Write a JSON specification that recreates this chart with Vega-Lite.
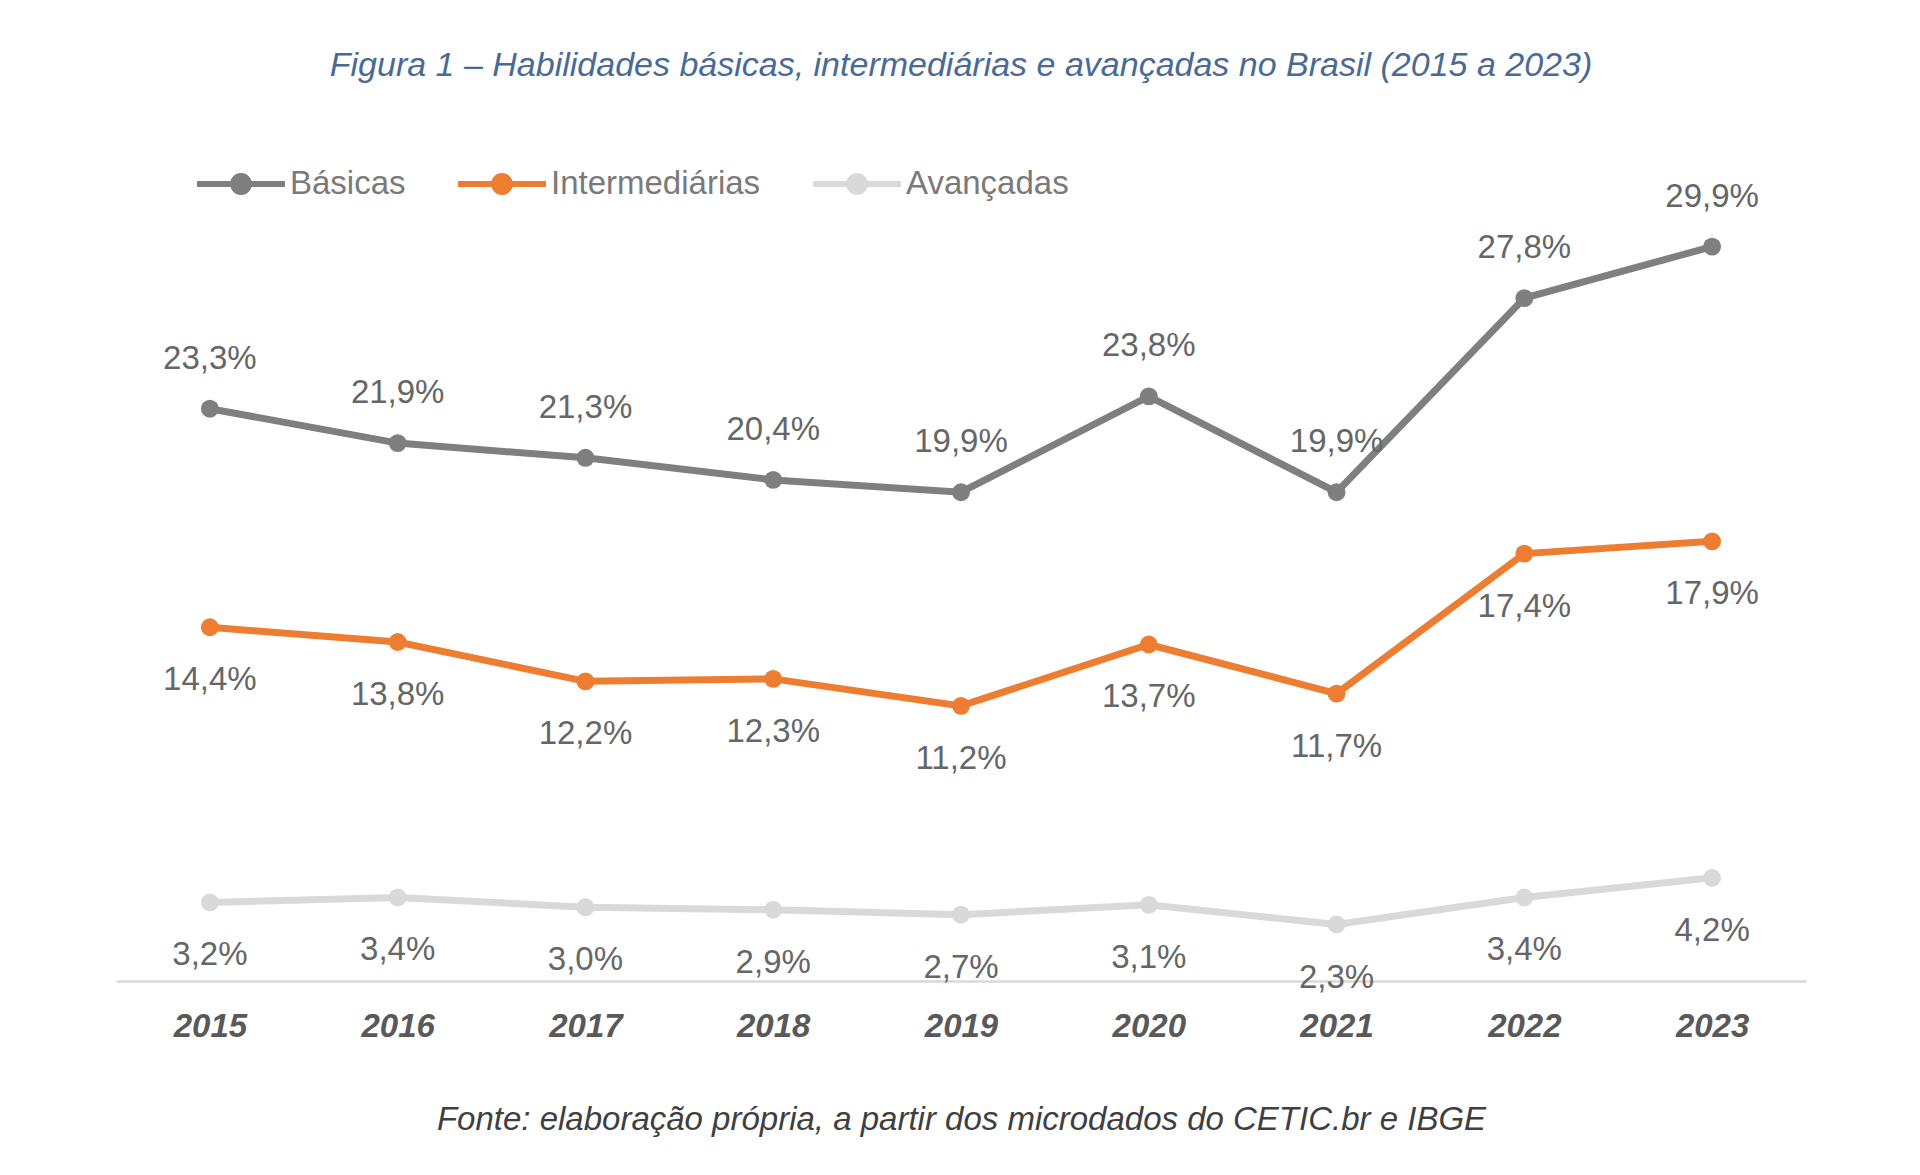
{
  "$schema": "https://vega.github.io/schema/vega-lite/v6.json",
  "autosize": "none",
  "width": 1690,
  "height": 786,
  "padding": {"left": 116, "right": 114, "top": 195, "bottom": 194},
  "background": "white",
  "config": {
    "view": {"stroke": null},
    "locale": {"number": {"decimal": ",", "thousands": ".", "grouping": [3], "currency": ["R$", ""]}},
    "font": "Liberation Sans"
  },
  "title": {
    "text": "Figura 1 – Habilidades básicas, intermediárias e avançadas no Brasil (2015 a 2023)",
    "fontSize": 34,
    "fontStyle": "italic",
    "fontWeight": "normal",
    "color": "#4a6a96",
    "anchor": "middle",
    "frame": "group",
    "offset": 54
  },
  "data": {
    "values": [
      {"ano": "2015", "serie": "Básicas", "valor": 0.233},
      {"ano": "2016", "serie": "Básicas", "valor": 0.219},
      {"ano": "2017", "serie": "Básicas", "valor": 0.213},
      {"ano": "2018", "serie": "Básicas", "valor": 0.204},
      {"ano": "2019", "serie": "Básicas", "valor": 0.199},
      {"ano": "2020", "serie": "Básicas", "valor": 0.238},
      {"ano": "2021", "serie": "Básicas", "valor": 0.199},
      {"ano": "2022", "serie": "Básicas", "valor": 0.278},
      {"ano": "2023", "serie": "Básicas", "valor": 0.299},
      {"ano": "2015", "serie": "Intermediárias", "valor": 0.144},
      {"ano": "2016", "serie": "Intermediárias", "valor": 0.138},
      {"ano": "2017", "serie": "Intermediárias", "valor": 0.122},
      {"ano": "2018", "serie": "Intermediárias", "valor": 0.123},
      {"ano": "2019", "serie": "Intermediárias", "valor": 0.112},
      {"ano": "2020", "serie": "Intermediárias", "valor": 0.137},
      {"ano": "2021", "serie": "Intermediárias", "valor": 0.117},
      {"ano": "2022", "serie": "Intermediárias", "valor": 0.174},
      {"ano": "2023", "serie": "Intermediárias", "valor": 0.179},
      {"ano": "2015", "serie": "Avançadas", "valor": 0.032},
      {"ano": "2016", "serie": "Avançadas", "valor": 0.034},
      {"ano": "2017", "serie": "Avançadas", "valor": 0.030},
      {"ano": "2018", "serie": "Avançadas", "valor": 0.029},
      {"ano": "2019", "serie": "Avançadas", "valor": 0.027},
      {"ano": "2020", "serie": "Avançadas", "valor": 0.031},
      {"ano": "2021", "serie": "Avançadas", "valor": 0.023},
      {"ano": "2022", "serie": "Avançadas", "valor": 0.034},
      {"ano": "2023", "serie": "Avançadas", "valor": 0.042}
    ]
  },
  "encoding": {
    "x": {
      "field": "ano",
      "type": "ordinal",
      "scale": {"type": "point", "padding": 0.5},
      "axis": {
        "title": "Fonte: elaboração própria, a partir dos microdados do CETIC.br e IBGE",
        "titleFont": "Liberation Sans",
        "titleFontSize": 33,
        "titleFontStyle": "italic",
        "titleFontWeight": "normal",
        "titleColor": "#3f3f3f",
        "titlePadding": 60,
        "labelAngle": 0,
        "labelFontSize": 33,
        "labelFontWeight": "bold",
        "labelFontStyle": "italic",
        "labelColor": "#595959",
        "labelPadding": 29,
        "ticks": false,
        "grid": false,
        "domainColor": "#d9d9d9",
        "domainWidth": 2.5
      }
    },
    "y": {
      "field": "valor",
      "type": "quantitative",
      "scale": {"domain": [0, 0.32], "nice": false},
      "axis": null
    },
    "color": {
      "field": "serie",
      "type": "nominal",
      "scale": {
        "domain": ["Básicas", "Intermediárias", "Avançadas"],
        "range": ["#7f7f7f", "#ed7d31", "#d9d9d9"]
      },
      "legend": {
        "title": null,
        "orient": "none",
        "direction": "horizontal",
        "legendX": 78,
        "legendY": -58,
        "symbolType": "M-1,0L1,0M-0.18,0A0.18,0.18,0,1,0,0.18,0A0.18,0.18,0,1,0,-0.18,0Z",
        "symbolSize": 7744,
        "symbolStrokeWidth": 6,
        "labelFontSize": 33,
        "labelLimit": 500,
        "labelColor": "#7a7a7a",
        "labelOffset": 2,
        "columnPadding": 40,
        "encode": {
          "symbols": {"update": {"fill": {"scale": "color", "field": "value"}}}
        }
      }
    }
  },
  "layer": [
    {
      "mark": {"type": "line", "strokeWidth": 7},
      "encoding": {}
    },
    {
      "mark": {"type": "circle", "size": 320, "opacity": 1},
      "encoding": {}
    },
    {
      "transform": [{"filter": "datum.serie === 'Básicas'"}],
      "mark": {"type": "text", "dy": -50, "fontSize": 33, "baseline": "middle"},
      "encoding": {
        "text": {"field": "valor", "type": "quantitative", "format": ".1%"},
        "color": {"value": "#666666"}
      }
    },
    {
      "transform": [{"filter": "datum.serie !== 'Básicas'"}],
      "mark": {"type": "text", "dy": 53, "fontSize": 33, "baseline": "middle"},
      "encoding": {
        "text": {"field": "valor", "type": "quantitative", "format": ".1%"},
        "color": {"value": "#666666"}
      }
    }
  ]
}
